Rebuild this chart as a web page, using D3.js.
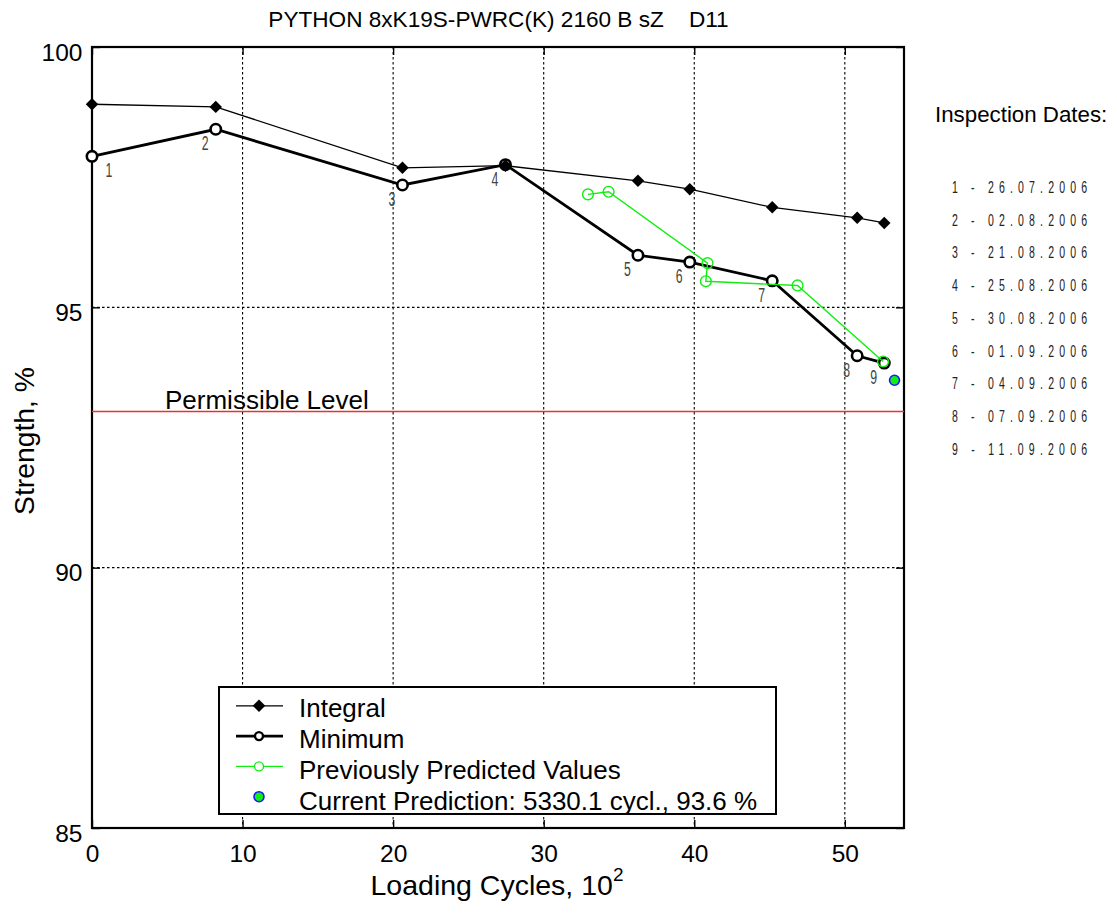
<!DOCTYPE html>
<html>
<head>
<meta charset="utf-8">
<script src="https://cdn.jsdelivr.net/npm/d3@7"></script>
<style>
  html, body { margin: 0; padding: 0; background: #fff; }
  svg text { font-family: "Liberation Sans", Arial, Helvetica, sans-serif; fill: #000; }
</style>
</head>
<body>
<svg id="chart" width="1117" height="920"></svg>
<script>
// Strength history of the rope, per inspection
const chartTitle = "PYTHON 8xK19S-PWRC(K) 2160 B sZ    D11";
const inspectionNumbers = [1, 2, 3, 4, 5, 6, 7, 8, 9];
const inspectionDates = ["26.07.2006", "02.08.2006", "21.08.2006", "25.08.2006", "30.08.2006",
                         "01.09.2006", "04.09.2006", "07.09.2006", "11.09.2006"];
// loading cycles in hundreds
const inspectionCycles = [0, 8.22, 20.62, 27.46, 36.26, 39.70, 45.18, 50.82, 52.62];
const integralStrength = [98.90, 98.85, 97.68, 97.72, 97.43, 97.27, 96.92, 96.72, 96.62];
const minimumStrength  = [97.90, 98.42, 97.35, 97.74, 96.00, 95.87, 95.51, 94.07, 93.93];
// earlier forecasts
const predictedCycles   = [32.94, 34.31, 40.88, 40.77, 46.86, 52.54];
const predictedStrength = [97.17, 97.22, 95.85, 95.50, 95.42, 93.96];
// latest forecast
const currentCycles = 5330.1;
const currentStrength = 93.6;
const permissibleLevel = 93;
const xTicks = [0, 10, 20, 30, 40, 50];
const yTicks = [85, 90, 95, 100];
const legendLabels = ["Integral", "Minimum", "Previously Predicted Values",
  `Current Prediction: ${currentCycles.toFixed(1)} cycl., ${currentStrength.toFixed(1)} %`];

const svg = d3.select("#chart");
svg.append("rect").attr("width", 1117).attr("height", 920).attr("fill", "#fff");

const plotLeft = 92, plotRight = 904, plotTop = 47, plotBottom = 828;
const x = d3.scaleLinear().domain([0, 53.93]).range([plotLeft, plotRight]);
const y = d3.scaleLinear().domain([85, 100]).range([plotBottom, plotTop]);

// grid
const grid = svg.append("g").attr("stroke", "#000").attr("stroke-width", 1.1).attr("stroke-dasharray", "2.5,2.5");
grid.selectAll("line.vx").data(xTicks.filter(t => t > 0)).join("line")
  .attr("x1", d => x(d)).attr("x2", d => x(d)).attr("y1", plotTop).attr("y2", plotBottom);
grid.selectAll("line.hy").data(yTicks.filter(t => t > 85 && t < 100)).join("line")
  .attr("y1", d => y(d)).attr("y2", d => y(d)).attr("x1", plotLeft).attr("x2", plotRight);

// axes
const fontTick = 24.5;
const gx = svg.append("g").attr("transform", `translate(0,${plotBottom})`)
  .call(d3.axisBottom(x).tickValues(xTicks).tickSizeInner(-8).tickSizeOuter(0).tickPadding(17));
const gy = svg.append("g").attr("transform", `translate(${plotLeft},0)`)
  .call(d3.axisLeft(y).tickValues(yTicks).tickSizeInner(-8).tickSizeOuter(0).tickPadding(9.5));
const gt = svg.append("g").attr("transform", `translate(0,${plotTop})`)
  .call(d3.axisTop(x).tickValues(xTicks).tickSizeInner(-8).tickSizeOuter(0).tickFormat(""));
const gr = svg.append("g").attr("transform", `translate(${plotRight},0)`)
  .call(d3.axisRight(y).tickValues(yTicks).tickSizeInner(-8).tickSizeOuter(0).tickFormat(""));
[gx, gy, gt, gr].forEach(g => {
  g.select(".domain").remove();
  g.selectAll(".tick line").attr("stroke", "#000").attr("stroke-width", 1.4);
  g.selectAll("text").attr("font-size", fontTick).attr("fill", "#000")
    .style("font-family", '"Liberation Sans", Arial, sans-serif');
});
gy.selectAll("text").attr("dy", "0.53em");

svg.append("rect").attr("x", plotLeft).attr("y", plotTop)
  .attr("width", plotRight - plotLeft).attr("height", plotBottom - plotTop)
  .attr("fill", "none").attr("stroke", "#000").attr("stroke-width", 2.2);

// permissible level
svg.append("line").attr("x1", plotLeft).attr("x2", plotRight)
  .attr("y1", y(permissibleLevel)).attr("y2", y(permissibleLevel))
  .attr("stroke", "#ec3030").attr("stroke-width", 1.4);
svg.append("text").attr("x", 165).attr("y", y(permissibleLevel) - 2.5)
  .attr("font-size", 26).text("Permissible Level");

const line = d3.line().x(d => x(d[0])).y(d => y(d[1]));
const minPts = inspectionCycles.map((c, i) => [c, minimumStrength[i]]);
const intPts = inspectionCycles.map((c, i) => [c, integralStrength[i]]);
const prePts = predictedCycles.map((c, i) => [c, predictedStrength[i]]);
const green = "#11ee11";

// minimum
svg.append("path").attr("d", line(minPts)).attr("fill", "none").attr("stroke", "#000").attr("stroke-width", 2.8);
svg.selectAll("circle.min").data(minPts).join("circle").attr("class", "min")
  .attr("cx", d => x(d[0])).attr("cy", d => y(d[1])).attr("r", 5.2)
  .attr("fill", "#fff").attr("stroke", "#000").attr("stroke-width", 2.6);

// inspection numbers beside the minimum points
svg.selectAll("text.num").data(minPts).join("text").attr("class", "num")
  .attr("transform", (d, i) => `translate(${x(d[0]) + (i === 0 ? 17 : -10.5)},${y(d[1]) + 21}) scale(0.6,1)`)
  .attr("text-anchor", "middle").attr("font-size", 20.5).style("fill", "#444")
  .text((d, i) => inspectionNumbers[i]);

// previous predictions
svg.append("path").attr("d", line(prePts)).attr("fill", "none").attr("stroke", green).attr("stroke-width", 1.4);
svg.selectAll("circle.pre").data(prePts).join("circle").attr("class", "pre")
  .attr("cx", d => x(d[0])).attr("cy", d => y(d[1])).attr("r", 5.4)
  .attr("fill", "none").attr("stroke", green).attr("stroke-width", 1.4);

// integral
const diamond = d3.symbol(d3.symbolSquare, 78);
svg.append("path").attr("d", line(intPts)).attr("fill", "none").attr("stroke", "#000").attr("stroke-width", 1.3);
svg.selectAll("path.int").data(intPts).join("path").attr("class", "int")
  .attr("d", diamond).attr("transform", d => `translate(${x(d[0])},${y(d[1])}) rotate(45)`)
  .attr("fill", "#000");

// current prediction
svg.append("circle").attr("cx", x(currentCycles / 100)).attr("cy", y(currentStrength)).attr("r", 5)
  .attr("fill", green).attr("stroke", "#1a1aff").attr("stroke-width", 1.6);

// title and axis titles
svg.append("text").attr("x", 498.5).attr("y", 26.5).attr("text-anchor", "middle")
  .attr("font-size", 22.6).style("white-space", "pre").text(chartTitle);
const xl = svg.append("text").attr("x", 497).attr("y", 895).attr("text-anchor", "middle").attr("font-size", 28.5);
xl.append("tspan").text("Loading Cycles, 10");
xl.append("tspan").attr("font-size", 19).attr("dy", -14).text("2");
svg.append("text").attr("transform", "translate(34,441) rotate(-90)").attr("text-anchor", "middle")
  .attr("font-size", 28.3).text("Strength, %");

// legend
const lg = svg.append("g");
lg.append("rect").attr("x", 219).attr("y", 687).attr("width", 557).attr("height", 127)
  .attr("fill", "#fff").attr("stroke", "#000").attr("stroke-width", 2);
const rowY = i => 705.8 + 30.3 * i;
legendLabels.forEach((t, i) => {
  lg.append("text").attr("x", 299).attr("y", 717.3 + 30.9 * i).attr("font-size", 26).text(t);
});
lg.append("line").attr("x1", 236).attr("x2", 283).attr("y1", rowY(0)).attr("y2", rowY(0)).attr("stroke", "#000").attr("stroke-width", 1.3);
lg.append("path").attr("d", diamond).attr("transform", `translate(259,${rowY(0)}) rotate(45)`).attr("fill", "#000");
lg.append("line").attr("x1", 236).attr("x2", 283).attr("y1", rowY(1)).attr("y2", rowY(1)).attr("stroke", "#000").attr("stroke-width", 2.8);
lg.append("circle").attr("cx", 259).attr("cy", rowY(1)).attr("r", 4).attr("fill", "#fff").attr("stroke", "#000").attr("stroke-width", 2.4);
lg.append("line").attr("x1", 236).attr("x2", 283).attr("y1", rowY(2)).attr("y2", rowY(2)).attr("stroke", green).attr("stroke-width", 1.4);
lg.append("circle").attr("cx", 259).attr("cy", rowY(2)).attr("r", 4.5).attr("fill", "#fff").attr("stroke", green).attr("stroke-width", 1.4);
lg.append("circle").attr("cx", 259).attr("cy", rowY(3)).attr("r", 5).attr("fill", green).attr("stroke", "#1a1aff").attr("stroke-width", 1.6);

// inspection dates list
svg.append("text").attr("x", 935).attr("y", 121.5).attr("font-size", 22.3).text("Inspection Dates:");
svg.selectAll("text.date").data(inspectionDates).join("text").attr("class", "date")
  .attr("transform", (d, i) => `translate(952,${193 + 32.7 * i}) scale(0.62,1)`)
  .attr("font-size", 17).attr("textLength", 218).attr("lengthAdjust", "spacing")
  .style("fill", "#222")
  .text((d, i) => `${inspectionNumbers[i]} - ${d}`);
</script>
</body>
</html>
